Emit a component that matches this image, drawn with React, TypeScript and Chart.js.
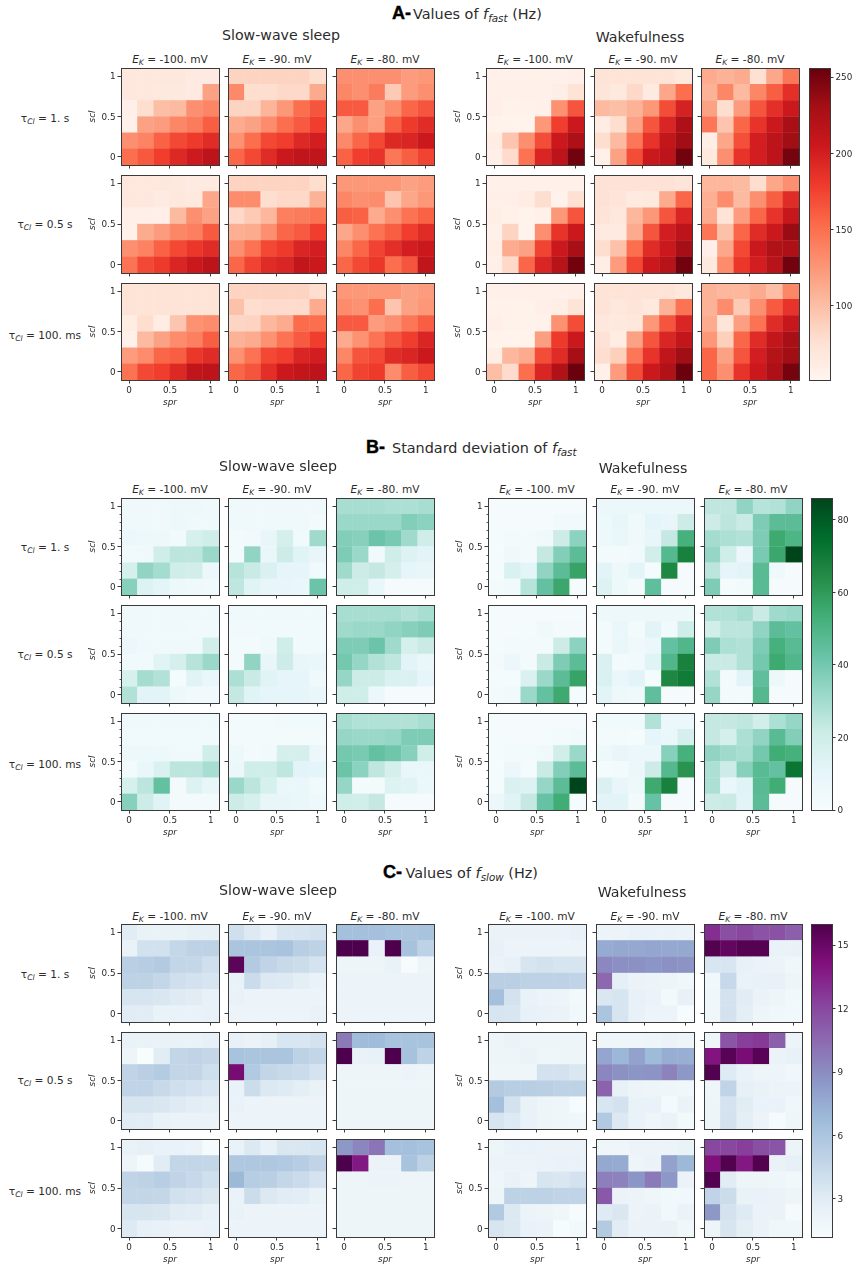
import React, { useEffect, useRef } from "react";
import { Chart, registerables } from "chart.js";

Chart.register(...registerables);

// ---- axes ----
const spr = [0, 0.2, 0.4, 0.6, 0.8, 1];
const sclTopDown = [1, 0.8, 0.6, 0.4, 0.2, 0];
const axisTicks = [0, 0.5, 1];
const minorTicks = [0.1, 0.2, 0.3, 0.4, 0.6, 0.7, 0.8, 0.9];
const ekLabels = ["-100.", "-90.", "-80."];
const tauLabels = ["1. s", "0.5 s", "100. ms"];

// ---- values: 9 panels (tau rows x EK columns), each 6 rows (scl 1 to 0) x 6 columns (spr 0 to 1) ----
const fastSleep = [
  [[68,68,68,68,64,64],[68,68,66,66,64,118],[58,78,100,103,130,136],[56,118,122,135,142,160],[130,137,158,172,180,190],[150,163,178,192,203,215]],
  [[85,85,85,85,85,78],[133,78,78,82,82,113],[85,85,106,125,150,165],[112,118,132,150,162,178],[128,150,172,178,192,200],[155,172,190,205,212,212]],
  [[130,130,130,130,122,125],[135,130,142,92,122,130],[162,162,118,132,155,165],[115,130,120,160,180,190],[133,155,172,192,195,205],[158,178,185,145,160,175]],
  [[68,68,68,66,64,64],[68,68,64,68,66,115],[58,58,58,102,130,118],[56,112,122,135,140,162],[130,138,158,172,182,190],[148,172,180,195,205,215]],
  [[85,85,85,85,85,78],[132,132,78,82,82,108],[82,92,105,140,142,148],[110,112,130,155,162,178],[130,148,172,180,195,200],[155,175,190,195,210,205]],
  [[125,125,125,125,118,122],[135,130,132,95,115,125],[160,158,112,130,148,158],[115,130,148,160,178,190],[135,155,175,188,200,205],[155,172,182,150,165,212]],
  [[72,72,72,72,72,72],[72,72,72,72,72,72],[62,78,62,95,128,132],[56,102,118,132,140,160],[122,132,155,160,182,190],[148,172,178,192,212,215]],
  [[85,85,85,85,85,78],[98,78,80,80,80,112],[84,85,105,112,152,150],[108,112,128,148,162,178],[128,148,172,178,195,200],[155,165,188,205,210,215]],
  [[125,125,125,125,118,122],[132,128,150,95,118,125],[162,162,122,130,145,160],[112,128,148,165,178,195],[135,165,172,190,195,205],[155,175,180,132,160,172]],
];
const fastWake = [
  [[56,56,56,56,56,58],[56,56,56,56,60,72],[58,55,55,57,128,165],[54,54,54,125,178,205],[62,95,130,170,205,225],[58,80,148,195,215,252]],
  [[72,72,72,72,72,66],[70,66,82,65,115,150],[102,100,108,125,170,198],[62,78,118,165,195,225],[78,102,145,185,210,232],[56,118,170,205,215,252]],
  [[112,108,112,76,115,145],[108,135,102,135,160,188],[118,78,122,165,188,205],[145,95,155,185,205,228],[60,115,168,200,215,232],[66,130,185,200,215,250]],
  [[56,56,56,56,56,56],[58,58,62,78,55,76],[60,56,54,56,125,165],[56,85,54,130,185,205],[60,112,118,175,205,228],[58,82,155,195,218,252]],
  [[74,74,74,74,74,70],[74,70,64,66,112,155],[72,68,105,125,165,195],[64,64,112,165,200,215],[78,98,150,190,205,230],[60,122,172,205,218,252]],
  [[105,105,102,78,115,130],[110,132,102,130,160,190],[112,72,122,155,185,208],[145,98,155,190,205,235],[58,115,172,205,222,225],[66,132,182,200,218,252]],
  [[56,56,56,56,56,58],[55,55,55,58,60,72],[58,55,55,55,128,170],[54,54,54,120,180,205],[60,105,112,170,190,230],[100,80,150,195,222,254]],
  [[72,72,72,72,72,68],[72,68,70,66,108,148],[68,66,68,125,165,195],[74,62,118,165,195,210],[78,88,145,185,212,232],[56,122,170,205,222,254]],
  [[108,105,105,112,100,135],[108,132,92,130,162,185],[112,70,120,148,190,208],[125,88,155,190,210,228],[155,118,165,200,220,232],[155,130,185,205,225,250]],
];
const sdSleep = [
  [[5,5,5,6,6,5],[5,5,5,6,5,5],[7,6,6,4,17,20],[4,5,20,25,25,32],[18,34,30,20,19,7],[36,14,11,6,5,4]],
  [[5,5,5,5,5,5],[5,5,5,5,5,3],[3,4,9,18,4,31],[3,34,8,21,13,9],[26,22,15,10,10,4],[24,13,9,9,8,42]],
  [[29,29,29,28,28,29],[32,32,32,32,37,35],[37,36,42,39,31,20],[38,32,4,20,14,12],[31,21,23,18,10,9],[20,20,8,1,1,1]],
  [[5,5,5,5,5,5],[5,5,5,5,4,4],[7,5,5,5,5,19],[4,4,13,18,26,32],[17,30,27,2,13,8],[27,12,12,6,4,4]],
  [[5,5,5,5,5,5],[4,4,4,4,4,4],[3,3,5,20,4,4],[3,34,9,21,9,8],[28,22,13,10,10,5],[23,13,10,10,10,8]],
  [[29,29,29,29,27,29],[31,32,32,34,36,38],[38,38,42,31,18,22],[40,33,27,24,12,8],[33,21,21,16,15,10],[20,20,7,1,1,1]],
  [[5,5,5,5,5,5],[4,4,4,4,4,4],[6,6,6,5,5,20],[3,8,16,25,25,29],[17,25,44,3,14,9],[36,21,13,3,3,3]],
  [[3,3,3,4,4,4],[3,3,3,3,3,3],[6,3,4,18,18,7],[7,20,20,24,12,11],[32,25,17,8,8,4],[21,17,9,9,8,6]],
  [[29,27,27,27,27,29],[33,32,32,33,38,38],[40,39,44,41,36,20],[42,35,24,18,8,8],[33,3,3,14,13,7],[20,19,23,1,1,1]],
];
const sdWake = [
  [[1,1,1,1,1,1],[1,1,1,1,4,4],[2,3,3,5,21,35],[2,5,3,23,37,46],[2,16,11,34,46,57],[3,4,26,44,56,1]],
  [[7,7,7,7,7,7],[6,9,5,11,9,21],[6,8,5,9,23,52],[3,3,4,19,48,68],[12,6,11,2,66,1],[14,6,3,45,1,1]],
  [[24,24,34,26,27,34],[21,25,22,38,46,46],[30,28,27,38,55,50],[33,20,7,39,56,86],[25,10,12,47,5,1],[38,2,3,47,1,1]],
  [[1,1,1,1,1,1],[1,1,2,5,3,3],[2,3,3,3,21,35],[3,7,3,22,38,46],[2,2,15,32,46,57],[3,4,32,44,55,2]],
  [[6,6,6,6,6,6],[3,8,3,12,4,20],[3,8,5,7,44,49],[15,3,4,13,49,68],[16,8,12,2,66,70],[12,6,5,45,1,1]],
  [[27,27,29,22,31,32],[19,25,25,34,46,44],[38,28,27,38,52,47],[22,22,27,40,55,49],[27,3,12,45,6,1],[33,3,3,48,1,1]],
  [[1,1,1,1,1,1],[1,1,1,2,3,4],[2,3,3,5,19,32],[2,7,2,22,37,46],[2,15,14,33,46,86],[7,13,23,43,54,1]],
  [[4,4,4,27,7,7],[3,3,2,10,8,18],[6,9,7,7,36,52],[2,3,7,21,48,62],[15,9,6,55,68,1],[12,12,3,43,1,1]],
  [[23,23,24,19,28,33],[23,18,28,34,47,37],[34,31,29,40,54,52],[28,21,36,47,44,72],[28,8,13,47,54,1],[21,22,12,46,1,1]],
];
const slowSleep = [
  [[3,2.4,2.4,2.4,2.6,2.6],[2.4,3.9,3.9,4.6,5,5],[5.2,5.4,5.6,4.7,4.6,4],[5,5,4.6,4,3.8,3.6],[3.6,3.6,3.4,3.1,3,2.5],[3,3,2.4,2.3,2.3,2.5]],
  [[4,3.2,2.5,3.5,3.6,3.8],[6,6,6,6.2,5.3,5],[15.5,5.6,4.8,4.4,4.2,3.7],[2.4,4.3,3.3,3.2,2.8,2.4],[2.3,2.1,2.1,2.1,2.1,2.1],[2.1,2.1,2.1,2.1,2.1,2.3]],
  [[6.4,6.4,6.4,6.2,6,6.2],[16,16,2.3,16,6.3,5],[2,2,2,2.4,1.3,2],[2.1,2.1,2.1,2.1,2.1,2.1],[2.1,2.1,2.1,2.1,2.1,2.1],[2.1,2.1,2.1,2.1,2.1,2.1]],
  [[2.4,2.4,2.4,2.4,2.4,2.6],[2,1.2,3,4.7,4.8,4.6],[4.8,5.2,5.5,4.7,4.7,4.1],[4.8,4.8,4.4,4,3.8,3.5],[3.6,3.6,3.4,3.1,2.9,2.7],[3,3,2.4,2.2,2.2,2.2]],
  [[2.5,2.2,2.6,3.5,3.5,3.8],[6.2,6,6,6,5,4.7],[14.5,5.7,4.7,4.4,4.3,3.7],[2.3,4.2,3.3,3.1,2.8,2.4],[2.3,2.1,2.1,2.1,2.1,2.1],[2.1,2.1,2.1,2.1,2.1,2.1]],
  [[9.8,6.7,6.7,6.2,6.2,6.2],[16,2.4,2.5,16,6.3,4.9],[2,2,2,2,2.1,2],[2,2,2,2,2,2],[2,2,2,2,2,2],[2,2,2,2,2,2]],
  [[2.4,2.6,2.3,2.3,2.2,1.4],[2,1.4,3,4.7,4.7,4.6],[4.8,5,5.3,4.8,4.5,4],[4.7,4.7,4.6,3.9,3.7,3.4],[3.6,3.6,3.4,3,2.9,2.5],[3.2,2.6,2.5,2.2,2.2,2.3]],
  [[2.3,3.3,2.5,3.4,3.4,3.6],[5.8,5.8,5.8,5.7,5.4,4.8],[6.9,5.4,5.2,4.6,4.3,3.7],[2.3,4.2,3.3,3,2.9,2.4],[2.4,2.1,2.1,2.1,2.1,2.1],[2.1,2.1,2.1,2.1,2.1,2.1]],
  [[8.5,9.3,10,6.4,6.4,6.2],[16,13.8,2.2,2.2,6.2,5],[2,2,2.1,2.1,2,2],[2,2,2,2,2,2],[2,2,2,2,2,2],[2,2,2,2,2,2]],
];
const slowWake = [
  [[2.2,2.2,2.2,2.2,2.2,2.5],[2.5,2.1,2.1,2.1,2.1,2.1],[2.2,2.5,3.6,3.8,3.6,3.6],[5.2,5.2,5,5,5,4.8],[6.4,3.8,2.4,2.1,2,1.6],[3.6,3.5,2.5,2.3,2.2,1.7]],
  [[2.1,2.1,2.3,2.3,2.3,2.2],[7.6,7.7,7.7,7.8,7.7,7.7],[9.2,8.9,8.8,8.6,8.8,8.7],[10.6,2.7,2.2,2.1,2,1.8],[3.4,3.6,2.5,2.2,1.6,2.5],[6,3.6,2.5,2.1,2.1,1.3]],
  [[13,11.7,12,11.5,11.6,11],[15.8,15.2,15.7,15.7,2.4,2.4],[3.5,3.5,2.5,2.2,2.1,1.8],[1.7,4.5,2.4,2.5,2.5,2],[1.8,3.8,3,2.2,2,1.7],[1.8,3.8,2.8,2,1.8,1.7]],
  [[2,2.2,2,2,2,2],[2,2,2.2,1.9,2,2],[1.9,1.9,1.9,3.8,3.8,3.4],[5.6,5.3,5.3,5.2,5,5],[6.4,3.8,2.4,2,1.9,1.3],[3.6,3.2,2.3,2,1.9,1.8]],
  [[1.9,1.9,1.9,2,2.2,2],[7.8,7,8,6.8,7.5,7.4],[9.3,8.8,8.6,8.7,9.4,8.5],[10.8,2.5,2.1,2,1.9,1.8],[3.5,3.8,2.4,2.3,1.5,2.2],[5.7,3.3,2.3,1.9,2.2,1.6]],
  [[2,11.4,12.4,12.6,11,2.1],[14,15.6,14.4,15.6,2.2,2.5],[15.8,3.1,2.3,2,2,1.8],[1.9,4.8,2.6,2.4,2.1,2.1],[2,3.7,3,2.3,2.3,1.8],[2,3.8,2.8,2.1,1.4,1.9]],
  [[2,2.3,2.3,2.2,2.2,2.2],[2.1,2.1,2.1,2.2,2.3,2.3],[1.9,2.4,2,3.6,3.4,3.8],[2,5,5,5,4.8,4.8],[5.7,3.3,2.1,2,1.8,1.3],[3.6,3.3,2.3,2.2,1.3,1.6]],
  [[1.9,1.9,2.1,2.1,2.1,2.4],[7.7,7.6,2,2.2,8,6.9],[9.6,9.4,8.6,9.8,8.5,2.2],[11.3,2.2,2.1,1.9,1.7,1.7],[3.1,3.4,2.1,2.2,1.7,2.2],[5.6,3,2.2,2.2,2.4,1.8]],
  [[12,12,12.4,11.7,11.4,2.1],[14.2,15.8,13.8,15.8,2.4,2.6],[15.8,3,2,2,1.9,1.7],[4.8,4.2,2.4,2.3,2.2,2],[8.5,3.8,3.1,2.2,2.2,1.4],[2,3.6,2.8,2.2,1.8,1.8]],
];

// ---- colour ranges and colour bar ticks ----
const fastRange = [51, 256];
const sdRange = [0, 86];
const slowRange = [1.2, 16];
const fastBarTicks = [100, 150, 200, 250];
const sdBarTicks = [0, 20, 40, 60, 80];
const slowBarTicks = [3, 6, 9, 12, 15];
const Reds = ["#fff5f0","#fee0d2","#fcbba1","#fc9272","#fb6a4a","#ef3b2c","#cb181d","#a50f15","#67000d"];
const BuGn = ["#f7fcfd","#e5f5f9","#ccece6","#99d8c9","#66c2a4","#41ae76","#238b45","#006d2c","#00441b"];
const BuPu = ["#f7fcfd","#e0ecf4","#bfd3e6","#9ebcda","#8c96c6","#8c6bb1","#88419d","#810f7c","#4d004b"];

const FONT = "'DejaVu Sans'";
const INK = "#2b2b2b";
const TICK_SIZE = 8.8;

function hexRgb(h: string) {
  return [1, 3, 5].map((i) => parseInt(h.slice(i, i + 2), 16));
}
function colorFor(map: string[], range: number[], v: number) {
  const t = Math.min(1, Math.max(0, (v - range[0]) / (range[1] - range[0]))) * (map.length - 1);
  const i = Math.min(map.length - 2, Math.floor(t));
  const a = hexRgb(map[i]);
  const b = hexRgb(map[i + 1]);
  const f = t - i;
  return `rgb(${a.map((c, k) => Math.round(c + (b[k] - c) * f)).join(",")})`;
}

const frame = {
  id: "frame",
  afterDraw(chart: any) {
    const { left, top, width, height } = chart.chartArea;
    const c = chart.ctx;
    c.save();
    c.strokeStyle = "#3a3a3a";
    c.lineWidth = 1;
    c.strokeRect(Math.round(left) + 0.5, Math.round(top) + 0.5, Math.round(width), Math.round(height));
    c.restore();
  },
};

const yMinorMarks = {
  id: "yMinorMarks",
  afterDraw(chart: any) {
    const s = chart.scales.y;
    const c = chart.ctx;
    c.save();
    c.strokeStyle = "#555";
    c.lineWidth = 1;
    minorTicks.forEach((v) => {
      const p = Math.round(s.getPixelForValue(v)) + 0.5;
      c.beginPath();
      c.moveTo(chart.chartArea.left, p);
      c.lineTo(chart.chartArea.left - 1.5, p);
      c.stroke();
    });
    c.restore();
  },
};

const M_LEFT = 34;
const M_TOP = 8;
const M_RIGHT = 6;
const M_BOTTOM = 28;

function Panel({ values, map, range, x, y, w, h, showX, showY, minor }: any) {
  const ref = useRef<HTMLCanvasElement>(null);
  useEffect(() => {
    const points: any[] = [];
    const colors: string[] = [];
    values.forEach((row: number[], r: number) =>
      row.forEach((v: number, c: number) => {
        points.push({ x: spr[c], y: [sclTopDown[r] - 0.102, sclTopDown[r] + 0.102] });
        colors.push(colorFor(map, range, v));
      })
    );
    const chart = new Chart(ref.current as any, {
      type: "bar",
      data: {
        datasets: [
          {
            data: points,
            backgroundColor: colors,
            borderWidth: 0,
            barPercentage: 1.02,
            categoryPercentage: 1,
          },
        ],
      },
      options: {
        animation: false,
        responsive: false,
        events: [],
        layout: { padding: { left: 0, top: M_TOP, right: M_RIGHT, bottom: 0 } },
        plugins: { legend: { display: false }, tooltip: { enabled: false }, title: { display: false } },
        scales: {
          x: {
            type: "linear",
            min: -0.1,
            max: 1.1,
            offset: false,
            afterBuildTicks: (s: any) => {
              s.ticks = axisTicks.map((value) => ({ value }));
            },
            afterFit: (s: any) => {
              s.height = M_BOTTOM;
            },
            grid: { offset: false, drawOnChartArea: false, drawTicks: true, tickLength: 3.5, color: "#3a3a3a", lineWidth: 1 },
            border: { display: false },
            ticks: {
              display: showX,
              autoSkip: false,
              maxRotation: 0,
              padding: 2,
              color: INK,
              font: { family: FONT, size: TICK_SIZE },
              callback: (v: any) => String(v),
            },
            title: { display: showX, text: "spr", color: INK, padding: 0, font: { family: FONT, size: TICK_SIZE, style: "italic" } },
          },
          y: {
            type: "linear",
            min: -0.1,
            max: 1.1,
            beginAtZero: false,
            afterBuildTicks: (s: any) => {
              s.ticks = axisTicks.map((value) => ({ value }));
            },
            afterFit: (s: any) => {
              s.width = M_LEFT;
            },
            grid: { drawOnChartArea: false, drawTicks: true, tickLength: 3.5, color: "#3a3a3a", lineWidth: 1 },
            border: { display: false },
            ticks: {
              display: showY,
              autoSkip: false,
              padding: 2,
              labelOffset: 1,
              color: INK,
              font: { family: FONT, size: TICK_SIZE },
              callback: (v: any) => String(v),
            },
            title: { display: showY, text: "scl", color: INK, padding: 0, font: { family: FONT, size: TICK_SIZE, style: "italic" } },
          },
        },
      },
      plugins: minor ? [frame, yMinorMarks] : [frame],
    } as any);
    return () => chart.destroy();
  }, []);
  return (
    <canvas
      ref={ref}
      width={w + M_LEFT + M_RIGHT}
      height={h + M_TOP + M_BOTTOM}
      style={{ position: "absolute", left: x - M_LEFT, top: y - M_TOP }}
    />
  );
}

function ColorBar({ map, range, ticks, x, y, w, h }: any) {
  const ref = useRef<HTMLCanvasElement>(null);
  useEffect(() => {
    const chart = new Chart(ref.current as any, {
      type: "bar",
      data: {
        labels: [""],
        datasets: [
          {
            data: [[range[0], range[1]]],
            barPercentage: 1,
            categoryPercentage: 1,
            borderWidth: 0,
            backgroundColor: (ctx: any) => {
              const area = ctx.chart.chartArea;
              if (!area) return map[0];
              const g = ctx.chart.ctx.createLinearGradient(0, area.bottom, 0, area.top);
              map.forEach((c: string, i: number) => g.addColorStop(i / (map.length - 1), c));
              return g;
            },
          },
        ],
      },
      options: {
        animation: false,
        responsive: false,
        events: [],
        layout: { padding: { left: 0, top: M_TOP, right: 0, bottom: M_TOP } },
        plugins: { legend: { display: false }, tooltip: { enabled: false } },
        scales: {
          x: { display: false },
          y: {
            position: "right",
            min: range[0],
            max: range[1],
            beginAtZero: false,
            afterBuildTicks: (s: any) => {
              s.ticks = ticks.map((value: number) => ({ value }));
            },
            afterFit: (s: any) => {
              s.width = 27;
            },
            grid: { drawOnChartArea: false, drawTicks: true, tickLength: 3.5, color: "#3a3a3a", lineWidth: 1 },
            border: { display: false },
            ticks: { autoSkip: false, padding: 2, labelOffset: 1, color: INK, font: { family: FONT, size: TICK_SIZE }, callback: (v: any) => String(v) },
          },
        },
      },
      plugins: [frame],
    } as any);
    return () => chart.destroy();
  }, []);
  return (
    <canvas
      ref={ref}
      width={w + 27}
      height={h + 2 * M_TOP}
      style={{ position: "absolute", left: x, top: y - M_TOP }}
    />
  );
}

function T({ x, y, align = "center", size = 10, style, children }: any) {
  const tx = align === "center" ? "-50%" : "0";
  return (
    <div
      style={{
        position: "absolute",
        left: x,
        top: y + 1,
        transform: `translate(${tx},-50%)`,
        fontFamily: FONT,
        fontSize: size,
        lineHeight: 1,
        color: INK,
        whiteSpace: "nowrap",
        ...style,
      }}
    >
      {children}
    </div>
  );
}

const subStyle = { fontSize: "72%", lineHeight: 0, verticalAlign: "-0.25em" };
const W = 98;

function Block({ left, right, rows, map, range, ticks, bar, head, sws, wake, rowLabelYs, ekY, minor }: any) {
  const cols = [left, right];
  const data = [sws.data, wake.data];
  return (
    <>
      <T x={head.x} y={head.y - 1} align="left" size={14.4}>
        <span style={{ fontFamily: "'Liberation Sans'", fontWeight: 700, fontSize: 18, WebkitTextStroke: "0.4px #000", color: "#000" }}>{head.letter}</span>
        <span style={{ marginLeft: head.gap }}>{head.text}</span> <i>f</i>
        <sub style={subStyle}><i>{head.sub}</i></sub>
        {head.unit ? <span> (Hz)</span> : null}
      </T>
      <T x={sws.x} y={sws.y} size={14.2}>Slow-wave sleep</T>
      <T x={wake.x} y={wake.y} size={14.2}>Wakefulness</T>
      {tauLabels.map((t, i) => (
        <T key={t} x={45} y={rowLabelYs[i]} size={10.6}>
          τ<sub style={subStyle}><i>Cl</i></sub> = {t}
        </T>
      ))}
      {cols.map((xs: number[], g: number) =>
        xs.map((x: number, c: number) => (
          <T key={`${g}${c}`} x={x + W / 2} y={ekY} size={10.6}>
            <i>E</i><sub style={subStyle}><i>K</i></sub> = {ekLabels[c]} mV
          </T>
        ))
      )}
      {cols.map((xs: number[], g: number) =>
        rows.map((row: number[], r: number) =>
          xs.map((x: number, c: number) => (
            <Panel
              key={`${g}${r}${c}`}
              values={data[g][r * 3 + c]}
              map={map}
              range={range}
              x={x}
              y={row[0]}
              w={W}
              h={row[1] - row[0]}
              showX={r === 2}
              showY={c === 0}
              minor={minor && c === 0}
            />
          ))
        )
      )}
      <ColorBar map={map} range={range} ticks={ticks} x={bar.x} y={bar.y0} w={21} h={bar.y1 - bar.y0} />
    </>
  );
}

export default function App() {
  return (
    <div style={{ position: "absolute", left: 0, top: 0, width: 857, height: 1268, overflow: "hidden", background: "#fff" }}>
      <Block
        left={[121, 228, 336]}
        right={[486, 594, 701]}
        rows={[[68, 165], [175, 273], [283, 380]]}
        map={Reds}
        range={fastRange}
        ticks={fastBarTicks}
        bar={{ x: 809, y0: 68, y1: 380 }}
        head={{ letter: "A-", text: "Values of", sub: "fast", unit: true, x: 392, y: 13, gap: 2 }}
        sws={{ data: fastSleep, x: 281, y: 34 }}
        wake={{ data: fastWake, x: 640, y: 36 }}
        rowLabelYs={[117, 223, 334]}
        ekY={58}
      />
      <Block
        left={[121, 228, 336]}
        right={[488, 596, 704]}
        rows={[[498, 595], [605, 703], [713, 810]]}
        map={BuGn}
        range={sdRange}
        ticks={sdBarTicks}
        bar={{ x: 811, y0: 498, y1: 810 }}
        head={{ letter: "B-", text: "Standard deviation of", sub: "fast", unit: false, x: 366, y: 447, gap: 7 }}
        sws={{ data: sdSleep, x: 278, y: 465 }}
        wake={{ data: sdWake, x: 643, y: 467 }}
        rowLabelYs={[546, 653, 763]}
        ekY={488}
        minor
      />
      <Block
        left={[121, 228, 336]}
        right={[488, 596, 704]}
        rows={[[924, 1022], [1032, 1129], [1139, 1237]]}
        map={BuPu}
        range={slowRange}
        ticks={slowBarTicks}
        bar={{ x: 811, y0: 924, y1: 1237 }}
        head={{ letter: "C-", text: "Values of", sub: "slow", unit: true, x: 383, y: 872, gap: 3.5 }}
        sws={{ data: slowSleep, x: 278, y: 889 }}
        wake={{ data: slowWake, x: 642, y: 891 }}
        rowLabelYs={[973, 1079, 1190]}
        ekY={915}
      />
    </div>
  );
}
